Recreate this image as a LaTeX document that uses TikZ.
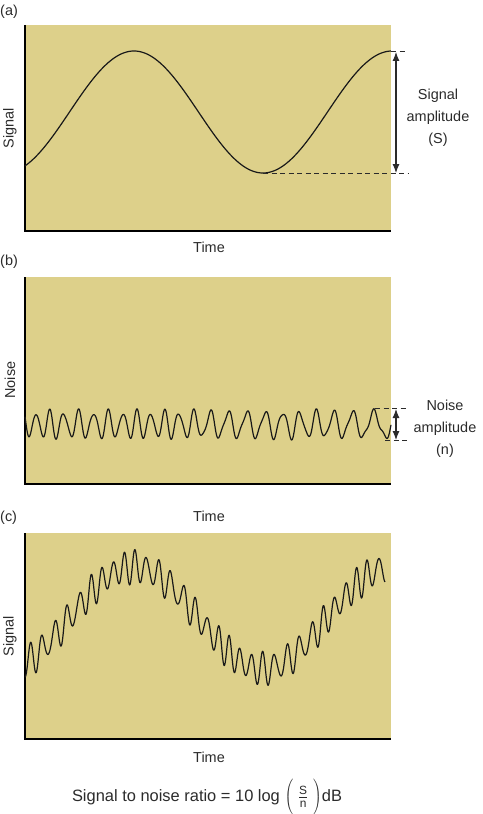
\documentclass[tikz,border=0pt]{standalone}
\usepackage{fontspec}
\setmainfont{Liberation Sans}
\usetikzlibrary{arrows.meta}
\definecolor{panelfill}{HTML}{DDD08A}
\definecolor{ink}{HTML}{2B2B2B}
\begin{document}
\begin{tikzpicture}[x=1bp,y=-1bp,
    panel/.style={fill=panelfill},
    axis/.style={black,line width=1.3bp},
    wave/.style={black!90,line width=1.2bp,line join=round},
    guide/.style={ink,line width=0.8bp,dash pattern=on 5bp off 3.5bp},
    amp/.style={ink,line width=1.1bp,{Latex[length=9bp,width=7bp]}-{Latex[length=9bp,width=7bp]}},
    every node/.style={text=ink,font=\fontsize{14.5}{22}\selectfont}]
  \useasboundingbox (0,0) rectangle (483,814);
  % panel letters
  \foreach \t/\y in {a/12, b/262, c/518}{
    \node[anchor=west,inner sep=0pt] (lab\t) at (0,\y) {(\t)};
  }
  % (a) pure signal
  \begin{scope}
    \fill[panel] (25,25) rectangle (391,231);
    \draw[axis] (25,25) -- (25,231) -- (391,231);
    \draw[wave] plot[domain=25:391,samples=300,smooth]
      (\x,{112+61*cos((\x-5)*1.39535)});
    \coordinate (sTop) at (391,51);
    \coordinate (sLow) at (263,173);
    \coordinate (sTopEnd) at (408,51);
    \coordinate (sLowEnd) at (408,173);
    \coordinate (sArrA) at (396,52);
    \coordinate (sArrB) at (396,173);
    \draw[guide] (sTop) -- (sTopEnd);
    \draw[guide] (sLow) -- (sLowEnd);
    \draw[amp] (sArrA) -- (sArrB);
    \node[align=center] (sAmp) at (438,118) {Signal\\amplitude\\(S)};
    \node[rotate=90] (sAxis) at (10,128) {Signal};
    \node (sTime) at (209,247) {Time};
  \end{scope}
  % (b) noise only
  \begin{scope}
    \fill[panel] (25,277) rectangle (391,484);
    \draw[axis] (25,277) -- (25,484) -- (391,484);
    \draw[wave] plot[domain=25:391,samples=700,smooth]
      (\x,{424.5+15*(0.85*sin(27.7*(\x-25)-1.46*((\x-25)/10)^2+55*sin(2.3*\x)-90)
        +0.2*sin(38*(\x-25)+30*sin(1.7*\x)))});
    \coordinate (nTop) at (375,408.5);
    \coordinate (nLow) at (385,440.5);
    \coordinate (nTopEnd) at (408,408.5);
    \coordinate (nLowEnd) at (408,440.5);
    \coordinate (nArrA) at (396,409);
    \coordinate (nArrB) at (396,440);
    \draw[guide] (nTop) -- (nTopEnd);
    \draw[guide] (nLow) -- (nLowEnd);
    \draw[amp] (nArrA) -- (nArrB);
    \node[align=center] (nAmp) at (445,429) {Noise\\amplitude\\(n)};
    \node[rotate=90] (nAxis) at (10,380) {Noise};
    \node (nTime) at (209,516) {Time};
  \end{scope}
  % (c) signal with noise
  \begin{scope}
    \fill[panel] (25,533) rectangle (391,739);
    \draw[axis] (25,533) -- (25,739) -- (391,739);
    \draw[wave] plot[domain=25:385,samples=800,smooth]
      (\x,{618+51*cos((\x-5)*1.39535)
        +17*(0.85*sin(31*(\x-25)+45*sin(3.1*\x)+60)+0.2*sin(42*(\x-25)))});
    \node[rotate=90] (cAxis) at (10,636) {Signal};
    \node (cTime) at (209,757) {Time};
  \end{scope}
  % ratio
  \node[font=\fontsize{16.5}{20}\selectfont] (ratio) at (207,797)
    {Signal to noise ratio = 10 log $\left(\;\frac{\mbox{\fontsize{12}{12}\selectfont S}}{\mbox{\fontsize{12}{12}\selectfont n}}\vphantom{\rule[-13bp]{0pt}{30bp}}\;\right)$dB};
\end{tikzpicture}
\end{document}
